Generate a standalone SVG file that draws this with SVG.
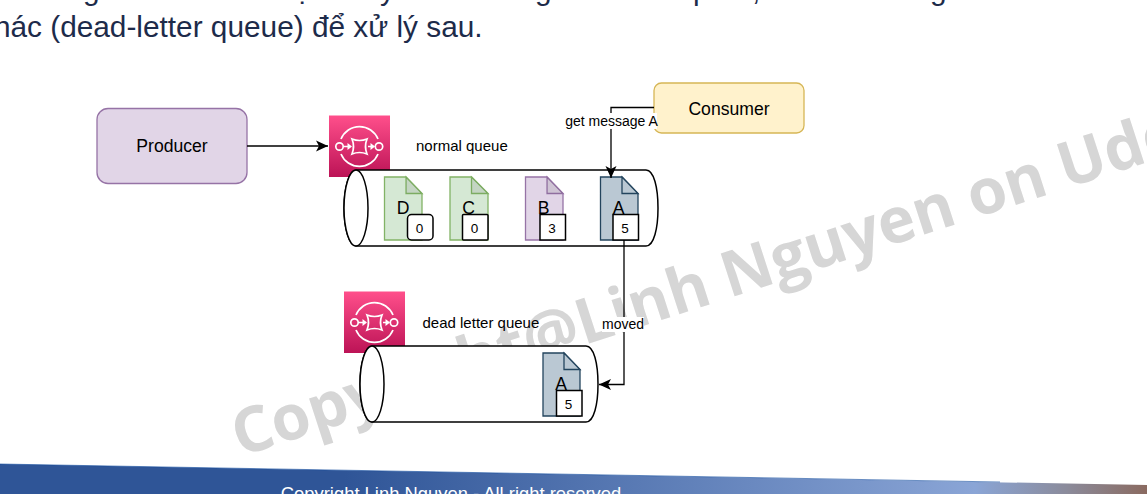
<svg xmlns="http://www.w3.org/2000/svg" width="1147" height="494" viewBox="0 0 1147 494">
<style>
.f{font-family:"Liberation Sans",Arial,sans-serif;fill:#000}
.n14{font-size:17.600px;text-anchor:middle}
.s{font-size:15px}
.m{font-size:13.500px;text-anchor:middle}
.lb{font-size:14px;text-anchor:middle}
.p{font-family:"Liberation Sans",Arial,sans-serif;font-size:29.800px;fill:#1d2b4a}
.wm{font-family:"Open Sans",sans-serif;font-weight:700;font-size:63px;letter-spacing:-.2px;fill:#d6d6d6}
.cyl{fill:#fff;stroke:#000;stroke-width:1.500}
.bdg{fill:#fff;stroke:#000;stroke-width:1.500}
.line{fill:none;stroke:#000;stroke-width:1.300}
.gr{fill:#d5e8d4;stroke:#82b366;stroke-width:1.300}
.pu{fill:#e1d5e7;stroke:#9673a6;stroke-width:1.300}
.bl{fill:#bac8d3;stroke:#23445d;stroke-width:1.300}
.fold{fill:#000;fill-opacity:.08}
.ic{fill:none;stroke:#fff;stroke-width:1.700}
</style>
<defs>
<linearGradient id="aws" x1="0" y1="1" x2="0" y2="0"><stop offset="0" stop-color="#bc1356"/><stop offset="1" stop-color="#ff4f8b"/></linearGradient>
<linearGradient id="foot" x1="0" y1="0" x2="1" y2="0"><stop offset="0" stop-color="#2f5597"/><stop offset=".3" stop-color="#2f5597"/><stop offset=".85" stop-color="#8aa5d6"/><stop offset=".93" stop-color="#8b8b9b"/><stop offset="1" stop-color="#8a6a60"/></linearGradient>
<marker id="arr" markerUnits="userSpaceOnUse" markerWidth="13" markerHeight="13" refX="12" refY="6" orient="auto"><path d="M0,0.500 L12,6 L0,11.500 L3,6 Z" fill="#000"/></marker>
<g id="sqs"><rect width="61" height="61.500" fill="url(#aws)"/><g class="ic"><path d="M12,23.500 A20,20 0 0 1 49,23.500"/><path d="M12,38.500 A20,20 0 0 0 49,38.500"/><circle cx="10.500" cy="31" r="3.700"/><circle cx="50" cy="31" r="3.700"/><path d="M14,31 H20 M39,31 H43"/><path d="M23,23.500 Q30.500,26.500 38,23.500 Q35,31 38,38.500 Q30.500,35.500 23,38.500 Q26,31 23,23.500 Z"/></g><path d="M18.500,27.500 L23,31 L18.500,34.500 Z M41.500,27.500 L46,31 L41.500,34.500 Z" fill="#fff"/></g>
</defs>

<g id="page-text">
<text class="p" x="-21" y="36.500">khác (dead-letter queue) để xử lý sau.</text>
<text class="p" x="83" y="0">g</text><text class="p" x="294" y="0">ạ</text><text class="p" x="380" y="0">y</text><text class="p" x="535" y="0">g</text><text class="p" x="693" y="0">p</text><text class="p" x="752" y="0">,</text><text class="p" x="930" y="0">g</text>
</g>
<text id="watermark" class="wm" transform="translate(240,457) rotate(-18)">Copyright@Linh Nguyen on Udemy</text>

<g id="footer">
<path d="M0,464 L1147,485 V494 H0 Z" fill="url(#foot)"/>
<path d="M0,464 L1000,482" fill="none" stroke="#0f4a9c" stroke-width="1" opacity=".6"/>
<text x="451" y="500" text-anchor="middle" font-family="'Liberation Sans',Arial,sans-serif" font-size="18.400" fill="#fff">Copyright Linh Nguyen - All right reserved</text>
</g>

<g id="producer"><rect x="97" y="108.500" width="150" height="75" rx="11" fill="#e1d5e7" stroke="#9673a6" stroke-width="1.300"/><text class="f n14" x="172" y="152">Producer</text></g>
<g id="consumer"><rect x="654" y="83" width="150" height="50" rx="7.500" fill="#fff2cc" stroke="#d6b656" stroke-width="1.300"/><text class="f n14" x="729" y="114.500">Consumer</text></g>
<g id="sqs-normal"><use href="#sqs" x="329" y="115.500"/></g>
<g id="sqs-dead"><use href="#sqs" x="344" y="291.500"/></g>

<g id="normal-queue">
<path class="cyl" d="M356,170 H646 C654,170 658,188 658,208 C658,228 654,246 646,246 H356 C349,246 344,228 344,208 C344,188 349,170 356,170 Z"/>
<ellipse class="cyl" cx="356" cy="208" rx="12" ry="38"/>
<text class="f s" x="416" y="150.500">normal queue</text>
</g>
<g id="dead-queue">
<path class="cyl" d="M372,346 H586 C594,346 598,364 598,384 C598,404 594,422 586,422 H372 C365,422 360,404 360,384 C360,364 365,346 372,346 Z"/>
<ellipse class="cyl" cx="372" cy="384" rx="12" ry="38"/>
<text class="f s" x="422.500" y="327.500">dead letter queue</text>
</g>

<g id="msg-d"><path class="gr" d="M384.500,177 H406 L422,193.500 V240 H384.500 Z"/><path class="gr" d="M406,177 L422,193.500 H406 Z"/><path class="fold" d="M406,177 L422,193.500 H406 Z"/><text class="f n14" x="403" y="214">D</text><rect class="bdg" x="407.500" y="214.500" width="25.500" height="25.500" rx="4"/><text class="f m" x="419.500" y="232.500">0</text></g>
<g id="msg-c"><path class="gr" d="M450,177 H471.500 L488,193.500 V240 H450 Z"/><path class="gr" d="M471.500,177 L488,193.500 H471.500 Z"/><path class="fold" d="M471.500,177 L488,193.500 H471.500 Z"/><text class="f n14" x="468.500" y="214">C</text><rect class="bdg" x="462.500" y="214.500" width="25.500" height="25.500" rx="1"/><text class="f m" x="474.500" y="232.500">0</text></g>
<g id="msg-b"><path class="pu" d="M525.500,177 H547 L563,193.500 V240 H525.500 Z"/><path class="pu" d="M547,177 L563,193.500 H547 Z"/><path class="fold" d="M547,177 L563,193.500 H547 Z"/><text class="f n14" x="543.500" y="214">B</text><rect class="bdg" x="540" y="214.500" width="25.500" height="25.500"/><text class="f m" x="552" y="232.500">3</text></g>
<g id="msg-a"><path class="bl" d="M600.500,177 H622 L638,193.500 V240 H600.500 Z"/><path class="bl" d="M622,177 L638,193.500 H622 Z"/><text class="f n14" x="618.500" y="214">A</text><rect class="bdg" x="613" y="214.500" width="25.500" height="25.500"/><text class="f m" x="625" y="232.500">5</text></g>
<g id="msg-a-dead"><path class="bl" d="M543,353 H564 L580,369.500 V416 H543 Z"/><path class="bl" d="M564,353 L580,369.500 H564 Z"/><text class="f n14" x="561" y="389.500">A</text><rect class="bdg" x="556.500" y="390.500" width="25.500" height="25.500"/><text class="f m" x="568.500" y="408.500">5</text></g>

<g id="connectors">
<path class="line" d="M247,146 H328" marker-end="url(#arr)"/>
<path class="line" d="M654,107.500 H611 V178" marker-end="url(#arr)"/>
<path class="line" d="M624,240 V384.500 H599" marker-end="url(#arr)"/>
<rect x="566" y="113" width="91" height="16" fill="#fff"/>
<text class="f lb" x="611.500" y="125.500">get message A</text>
<rect x="602" y="317" width="42" height="15" fill="#fff"/>
<text class="f lb" x="623" y="329">moved</text>
</g>
</svg>
